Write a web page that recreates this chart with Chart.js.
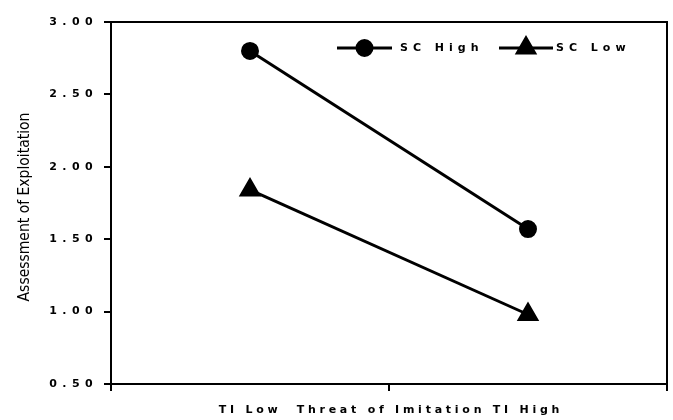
<!DOCTYPE html>
<html>
<head>
<meta charset="utf-8">
<script src="https://cdn.jsdelivr.net/npm/chart.js@4/dist/chart.umd.min.js"></script>
<style>
  html, body { margin: 0; padding: 0; background: #fff; }
  #wrap { width: 673px; height: 420px; }
</style>
</head>
<body>
<div id="wrap"><canvas id="myChart"></canvas></div>
<script>
// categorie e valori
const categories = ['TI Low', 'TI High'];
const scHigh = [2.80, 1.57];
const scLow = [1.84, 0.98];
const yTicks = [0.5, 1.0, 1.5, 2.0, 2.5, 3.0];
const xTitle = 'TI Low  Threat of Imitation TI High';
const yTitle = 'Assessment of Exploitation';

const BOLD_FAMILY = '"DejaVu Sans", Verdana, sans-serif';
const BOLD_FONT = 'bold 11px ' + BOLD_FAMILY;
const TICK_SPACING = '5.4px';
const LEGEND_SPACING = '5px';
const XTITLE_SPACING = '3.75px';

// plugin per cornice, titoli e legenda dentro il grafico
const decorPlugin = {
  id: 'decor',
  beforeDraw(chart) {
    chart.ctx.letterSpacing = TICK_SPACING;
  },
  afterDraw(chart) {
    const ctx = chart.ctx;
    const a = chart.chartArea;
    ctx.save();
    // cornice
    ctx.strokeStyle = '#000';
    ctx.lineWidth = 2;
    ctx.strokeRect(a.left, a.top, a.right - a.left, a.bottom - a.top);

    // titolo asse x
    ctx.letterSpacing = XTITLE_SPACING;
    ctx.font = BOLD_FONT;
    ctx.fillStyle = '#000';
    ctx.textAlign = 'center';
    ctx.textBaseline = 'middle';
    ctx.fillText(xTitle, 389 + 2, 410);

    // titolo asse y
    ctx.letterSpacing = '0px';
    ctx.font = '15.5px "Liberation Sans Narrow", "DejaVu Sans Condensed", Arial, sans-serif';
    ctx.translate(25, 207);
    ctx.rotate(-Math.PI / 2);
    ctx.fillText(yTitle, 0, 0);
    ctx.restore();

    // legenda
    ctx.save();
    ctx.letterSpacing = LEGEND_SPACING;
    ctx.font = BOLD_FONT;
    ctx.textAlign = 'left';
    ctx.textBaseline = 'middle';
    const items = [
      { ds: chart.data.datasets[0], x0: 337, x1: 392, tx: 400 },
      { ds: chart.data.datasets[1], x0: 499, x1: 553, tx: 556 }
    ];
    const ly = 48;
    items.forEach(it => {
      ctx.strokeStyle = '#000';
      ctx.lineWidth = 3;
      ctx.beginPath();
      ctx.moveTo(it.x0, ly);
      ctx.lineTo(it.x1, ly);
      ctx.stroke();
      ctx.fillStyle = '#000';
      Chart.helpers.drawPoint(ctx, {
        pointStyle: it.ds.pointStyle,
        radius: it.ds.pointRadius,
        borderWidth: 1
      }, (it.x0 + it.x1) / 2, ly);
      ctx.fillStyle = '#000';
      ctx.fillText(it.ds.label, it.tx, ly);
    });
    ctx.restore();
  }
};

const chartData = {
  labels: categories,
  datasets: [{
    label: 'SC High',
    data: scHigh,
    borderColor: '#000',
    backgroundColor: '#000',
    borderWidth: 3,
    pointStyle: 'circle',
    pointRadius: 7.5,
    pointBackgroundColor: '#000',
    pointBorderColor: '#000',
    tension: 0
  }, {
    label: 'SC Low',
    data: scLow,
    borderColor: '#000',
    backgroundColor: '#000',
    borderWidth: 3,
    pointStyle: 'triangle',
    pointRadius: 10,
    pointBackgroundColor: '#000',
    pointBorderColor: '#000',
    tension: 0
  }]
};

const chartConfig = {
  type: 'line',
  data: chartData,
  options: {
    responsive: true,
    maintainAspectRatio: false,
    animation: false,
    layout: { autoPadding: false, padding: { top: 22, right: 6, left: 0, bottom: 0 } },
    plugins: {
      legend: { display: false },
      tooltip: { enabled: false }
    },
    scales: {
      x: {
        type: 'category',
        offset: true,
        grid: { offset: true, drawOnChartArea: false, color: '#000', lineWidth: 2, tickLength: 7 },
        border: { color: '#000', width: 2 },
        ticks: { display: false },
        afterFit(scale) { scale.height = 36; }
      },
      y: {
        min: 0.5,
        max: 3.0,
        afterBuildTicks(scale) { scale.ticks = yTicks.map(v => ({ value: v })); },
        grid: { drawOnChartArea: false, color: '#000', lineWidth: 2, tickLength: 7 },
        border: { color: '#000', width: 2 },
        ticks: {
          color: '#000',
          font: { family: BOLD_FAMILY, size: 11, weight: 'bold' },
          padding: 6,
          callback: v => Number(v).toFixed(2)
        },
        afterFit(scale) { scale.width = 111; }
      }
    }
  },
  plugins: [decorPlugin]
};

let myChart = new Chart(document.getElementById('myChart'), chartConfig);
</script>
</body>
</html>
